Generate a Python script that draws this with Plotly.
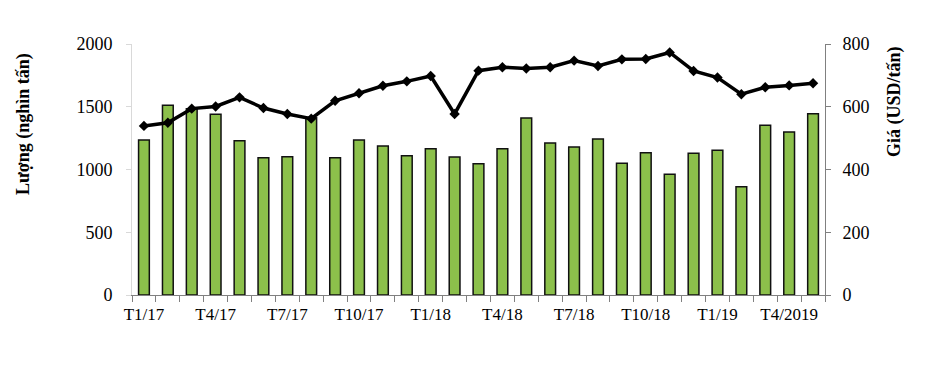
import plotly.graph_objects as go

months = ["T1/17","T2/17","T3/17","T4/17","T5/17","T6/17","T7/17","T8/17","T9/17","T10/17","T11/17","T12/17",
          "T1/18","T2/18","T3/18","T4/18","T5/18","T6/18","T7/18","T8/18","T9/18","T10/18","T11/18","T12/18",
          "T1/19","T2/19","T3/19","T4/2019","T5/19"]
volume = [1235, 1512, 1485, 1440, 1230, 1094, 1102, 1415, 1094, 1235, 1187, 1110,
          1166, 1100, 1046, 1166, 1410, 1211, 1179, 1243, 1049, 1134, 962, 1129,
          1153, 863, 1352, 1299, 1445]
price = [539, 549, 594, 601, 630, 596, 577, 562, 619, 643, 667, 681,
         698, 577, 715, 726, 722, 726, 747, 730, 751, 752, 773, 714,
         693, 640, 662, 668, 675]
tick_labels = ["T1/17","T4/17","T7/17","T10/17","T1/18","T4/18","T7/18","T10/18","T1/19","T4/2019"]

x = list(range(1, len(months) + 1))
tick_pos = [x[months.index(t)] for t in tick_labels]

font = "Liberation Serif, Times New Roman, serif"

fig = go.Figure()
fig.add_trace(go.Bar(x=x, y=volume, name="Lượng", width=0.45,
                     marker=dict(color="#8cc04b", line=dict(color="#111111", width=1.5))))
fig.add_trace(go.Scatter(x=x, y=price, name="Giá", yaxis="y2", mode="lines+markers",
                         line=dict(color="black", width=3.5),
                         marker=dict(symbol="diamond", size=8, color="black")))

fig.update_layout(
    width=932, height=369,
    margin=dict(l=124, r=115, t=36, b=82),
    paper_bgcolor="white", plot_bgcolor="white",
    showlegend=False,
    font=dict(family=font, size=18, color="black"),
    xaxis=dict(range=[0.5, 29.5], tickvals=tick_pos, ticktext=tick_labels,
               ticks="", showgrid=False, zeroline=False,
               showline=True, linecolor="#808080", linewidth=1,
               tickfont=dict(size=17), ticklabelstandoff=4,
               minor=dict(tick0=0.5, dtick=1, ticks="outside", ticklen=6, tickcolor="#808080", showgrid=False)),
    yaxis=dict(range=[0, 2000], tickvals=[0, 500, 1000, 1500, 2000], showgrid=False, zeroline=False,
               showline=True, linecolor="#d9d9d9", linewidth=1, ticks="outside", ticklen=5, tickcolor="#d9d9d9",
               ticklabelstandoff=10),
    yaxis2=dict(range=[0, 800], tickvals=[0, 200, 400, 600, 800], overlaying="y", side="right",
                showgrid=False, zeroline=False, showline=True, linecolor="#808080", linewidth=1,
                ticks="outside", ticklen=5, tickcolor="#808080", ticklabelstandoff=8),
    annotations=[
        dict(text="<b>Lượng (nghìn tấn)</b>", xref="paper", yref="paper", x=-0.1573, y=0.681,
             xanchor="center", yanchor="middle", textangle=-90, showarrow=False, font=dict(size=18)),
        dict(text="<b>Giá (USD/tấn)</b>", xref="paper", yref="paper", x=1.101, y=0.773,
             xanchor="center", yanchor="middle", textangle=-90, showarrow=False, font=dict(size=18)),
    ],
)

fig.write_html("out.html")
